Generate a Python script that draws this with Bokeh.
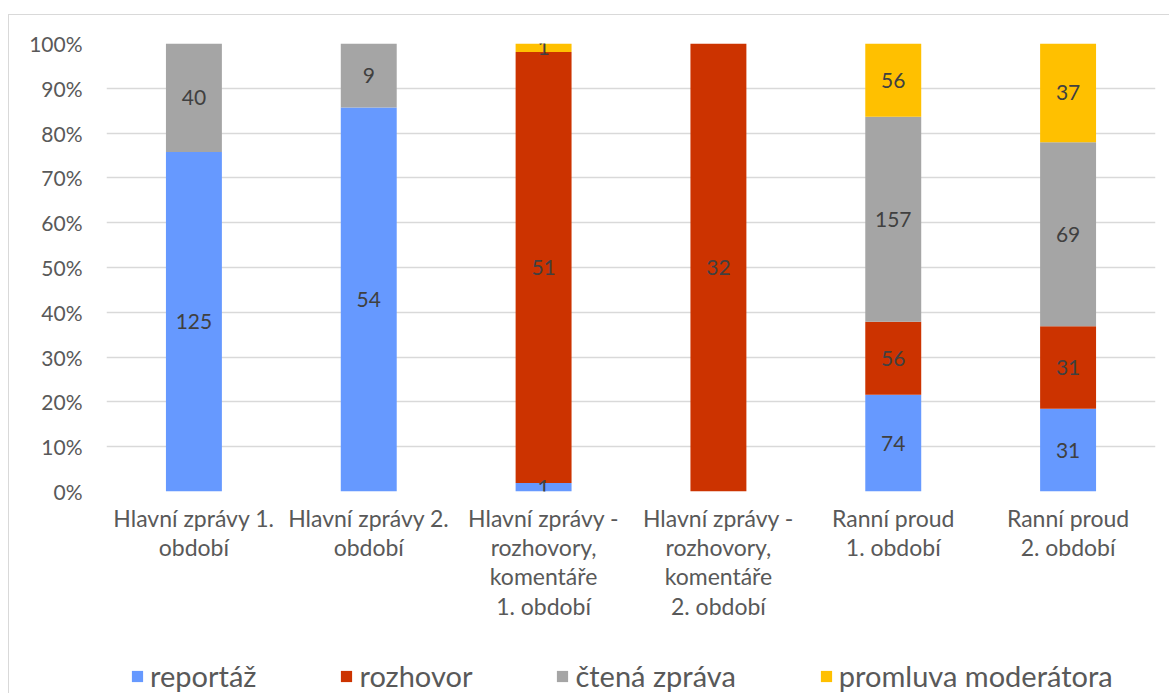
from bokeh.plotting import figure
from bokeh.layouts import column
from bokeh.models import (Range1d, NumeralTickFormatter, FixedTicker, Legend,
                          LegendItem, LabelSet, ColumnDataSource, LinearAxis)
from bokeh.core.properties import value
from bokeh.embed import file_html
from bokeh.resources import INLINE

categories = [
    "Hlavní zprávy 1.\nobdobí",
    "Hlavní zprávy 2.\nobdobí",
    "Hlavní zprávy -\nrozhovory,\nkomentáře\n1. období",
    "Hlavní zprávy -\nrozhovory,\nkomentáře\n2. období",
    "Ranní proud\n1. období",
    "Ranní proud\n2. období",
]
series = ["reportáž", "rozhovor", "čtená zpráva", "promluva moderátora"]
reportaz = [125, 54, 1, 0, 74, 31]
rozhovor = [0, 0, 51, 32, 56, 31]
ctena_zprava = [40, 9, 0, 0, 157, 69]
promluva = [0, 0, 1, 0, 56, 37]
colors = ["#6699FF", "#CC3300", "#A5A5A5", "#FFC000"]
y_ticks = [0.0, 0.1, 0.2, 0.3, 0.4, 0.5, 0.6, 0.7, 0.8, 0.9, 1.0]

FONT = "Lato"
TXT = "#595959"

values = [reportaz, rozhovor, ctena_zprava, promluva]
n = len(categories)
xs = [i + 0.5 for i in range(n)]
totals = [sum(v[i] for v in values) for i in range(n)]
keys = ["s%d" % k for k in range(len(series))]
data = {"x": xs}
for k, v in zip(keys, values):
    data[k] = [v[i] / totals[i] for i in range(n)]
source = ColumnDataSource(data)

W = 1160
p = figure(width=W, height=633, x_range=Range1d(0, n), y_range=Range1d(0, 1),
           output_backend="svg", toolbar_location=None, x_axis_location=None,
           min_border_left=97, min_border_right=14, min_border_top=28,
           min_border_bottom=157)
p.outline_line_color = None
p.background_fill_color = "white"
p.border_fill_color = "white"

renderers = p.vbar_stack(keys, x="x", width=0.32, source=source, color=colors,
                         line_color=None)

# y axis
ax = p.yaxis[0]
ax.ticker = FixedTicker(ticks=y_ticks)
ax.formatter = NumeralTickFormatter(format="0%")
ax.axis_line_color = None
ax.major_tick_line_color = None
ax.minor_tick_line_color = None
ax.major_label_standoff = 18
ax.major_label_text_font = FONT
ax.major_label_text_font_size = "21px"
ax.major_label_text_color = TXT
p.xgrid.visible = False
p.ygrid.ticker = FixedTicker(ticks=y_ticks)
p.ygrid.grid_line_color = "#d9d9d9"
p.ygrid.grid_line_width = 1.3

# category axis
xax = LinearAxis(ticker=FixedTicker(ticks=xs),
                 major_label_overrides={x: c for x, c in zip(xs, categories)})
xax.axis_line_color = None
xax.major_tick_line_color = None
xax.minor_tick_line_color = None
xax.major_label_standoff = 6
xax.major_label_text_font = FONT
xax.major_label_text_font_size = "23px"
xax.major_label_text_color = TXT
xax.major_label_text_line_height = 1.05
p.add_layout(xax, "below")

# data labels
lx, ly, lt = [], [], []
for i in range(n):
    cum = 0.0
    for v in values:
        share = v[i] / totals[i]
        if v[i] > 0:
            lx.append(xs[i])
            ly.append(cum + share / 2)
            lt.append(str(v[i]))
        cum += share
lsrc = ColumnDataSource(dict(x=lx, y=ly, t=lt))
p.add_layout(LabelSet(x="x", y="y", text="t", source=lsrc, text_align="center",
                      text_baseline="middle", text_font=value(FONT),
                      text_font_size="21px", text_color="#404040"))

# legend strip (separate figure, its bars are kept out of view)
pl = figure(width=W, height=45, x_range=Range1d(100, 101), y_range=Range1d(100, 101),
            output_backend="svg", toolbar_location=None, x_axis_location=None,
            y_axis_location=None, min_border=0)
pl.outline_line_color = None
pl.grid.visible = False
pl.border_fill_color = "white"
leg_r = pl.vbar_stack(keys, x="x", width=0.32, source=source, color=colors,
                      line_color=None)
legend = Legend(items=[LegendItem(label=s, renderers=[r]) for s, r in zip(series, leg_r)],
                orientation="horizontal", location=(24, 0),
                glyph_width=14, glyph_height=14, label_standoff=6, spacing=83,
                label_text_font=FONT, label_text_font_size="29px",
                label_text_color=TXT, border_line_color=None,
                background_fill_alpha=0, padding=0, margin=0)
pl.add_layout(legend, "center")

layout = column(p, pl, spacing=0)
layout.styles = {"margin-left": "8px", "margin-top": "14px",
                 "border-left": "1px solid #d9d9d9",
                 "border-top": "1px solid #d9d9d9"}

open("out.html", "w").write(file_html(layout, INLINE))
